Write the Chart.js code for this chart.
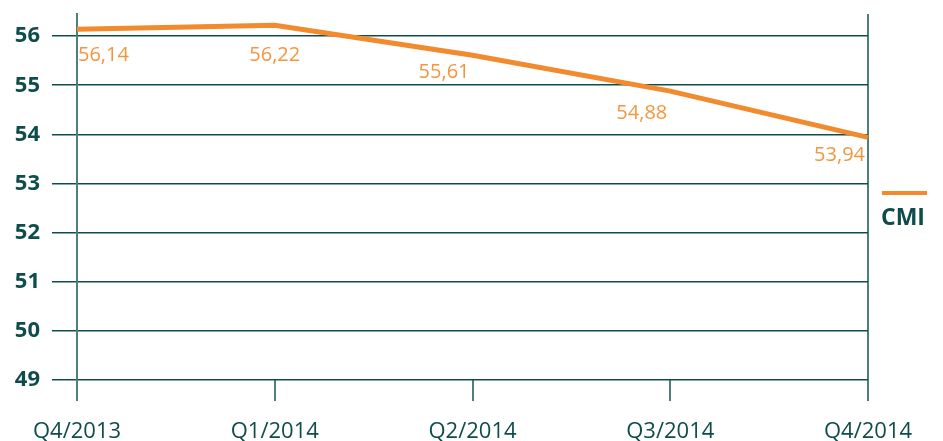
<!DOCTYPE html>
<html>
<head>
<meta charset="utf-8">
<script src="https://cdn.jsdelivr.net/npm/chart.js@4.4.1/dist/chart.umd.min.js"></script>
<style>
  html, body { margin: 0; padding: 0; background: #fff; overflow: hidden; }
  #wrap { width: 943px; height: 460px; }
</style>
</head>
<body>
<div id="wrap"><canvas id="chart"></canvas></div>
<script>
// data
var quarters = ["Q4/2013", "Q1/2014", "Q2/2014", "Q3/2014", "Q4/2014"];
var cmiValues = [56.14, 56.22, 55.61, 54.88, 53.94];
var seriesName = "CMI";
var labelAlign = ["left", "center", "right", "right", "right"];
var labelDrop = [26, 30, 17, 22, 18]; // px below the point

var teal = "#0f4c4c";
var tealLight = "#4e7e7e";
var orange = "#f28a2e";
var orangeText = "#f4963f";

// value labels under each point
var valueLabels = {
  id: "valueLabels",
  afterDatasetsDraw: function (chart) {
    var ctx = chart.ctx;
    var meta = chart.getDatasetMeta(0);
    ctx.save();
    ctx.font = "20px 'Open Sans'";
    ctx.fillStyle = orangeText;
    ctx.textBaseline = "middle";
    meta.data.forEach(function (pt, i) {
      var txt = cmiValues[i].toFixed(2).replace(".", ",");
      var x = pt.x;
      if (labelAlign[i] === "left") x += 1;
      if (labelAlign[i] === "right") x -= 3;
      ctx.textAlign = labelAlign[i];
      ctx.fillText(txt, x, pt.y + labelDrop[i]);
    });
    ctx.restore();
  }
};

// legend on the right side
var sideLegend = {
  id: "sideLegend",
  afterDraw: function (chart) {
    var ctx = chart.ctx;
    var x = chart.chartArea.right + 14;
    ctx.save();
    ctx.fillStyle = orange;
    ctx.fillRect(x, 191, 45, 4);
    ctx.fillStyle = teal;
    ctx.font = "bold 23px 'Open Sans'";
    ctx.textAlign = "left";
    ctx.textBaseline = "middle";
    ctx.fillText(seriesName, x - 1, 218);
    ctx.restore();
  }
};

new Chart(document.getElementById("chart"), {
  type: "line",
  data: {
    labels: quarters,
    datasets: [{
      label: seriesName,
      data: cmiValues,
      borderColor: orange,
      borderWidth: 5,
      pointRadius: 0,
      tension: 0,
      clip: false
    }]
  },
  options: {
    responsive: true,
    maintainAspectRatio: false,
    animation: false,
    layout: { padding: { top: 14, right: 75, left: 0, bottom: 0 } },
    plugins: { legend: { display: false }, tooltip: { enabled: false } },
    scales: {
      x: {
        grid: {
          color: function (c) {
            return (c.index === 0 || c.index === quarters.length - 1) ? tealLight : "rgba(0,0,0,0)";
          },
          tickColor: tealLight,
          lineWidth: 2,
          tickLength: 21
        },
        border: { display: false },
        ticks: {
          color: teal,
          font: { family: "'Open Sans'", size: 22 },
          padding: 18,
          maxRotation: 0,
          autoSkip: false
        },
        afterFit: function (scale) { scale.height = 80; }
      },
      y: {
        min: 49,
        max: 56.45,
        grid: { color: teal, lineWidth: 1.5, tickLength: 25 },
        border: { display: true, color: tealLight, width: 2 },
        ticks: {
          stepSize: 1,
          includeBounds: false,
          color: teal,
          font: { family: "'Open Sans'", size: 22, weight: "bold" },
          padding: 12
        },
        afterFit: function (scale) {
          scale.width = 77;
          scale.paddingTop = 0;
          scale.paddingBottom = 0;
        }
      }
    }
  },
  plugins: [valueLabels, sideLegend]
});
</script>
</body>
</html>
